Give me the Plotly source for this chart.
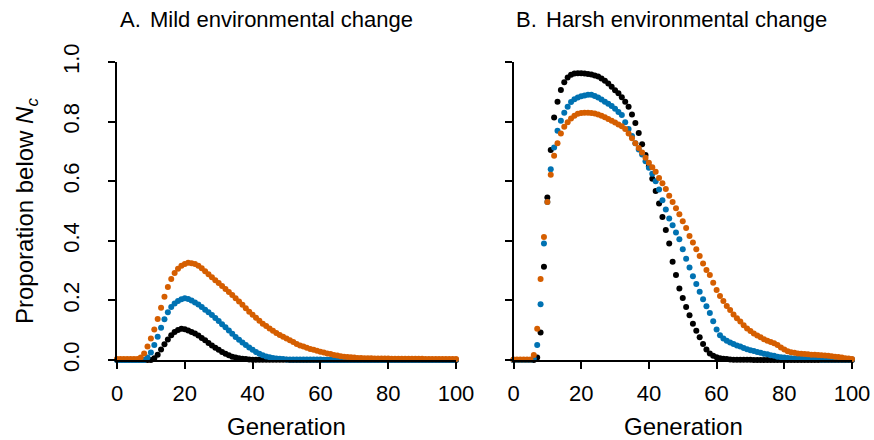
import plotly.graph_objects as go

generation = list(range(101))

# Panel A: Mild environmental change
mild_orange = [0.003]*7 + [
    0.008, 0.022, 0.045, 0.072, 0.102, 0.138, 0.175, 0.212, 0.245, 0.272,
    0.292, 0.306, 0.316, 0.322, 0.326, 0.325, 0.322, 0.316, 0.308, 0.298,
    0.288, 0.278, 0.268, 0.258, 0.248, 0.238, 0.228, 0.218, 0.207, 0.196,
    0.185, 0.174, 0.162, 0.152, 0.142, 0.132, 0.122, 0.114, 0.106, 0.098,
    0.091, 0.084, 0.078, 0.072, 0.066, 0.060, 0.054, 0.049, 0.045, 0.041,
    0.037, 0.034, 0.031, 0.028, 0.025, 0.022, 0.020, 0.017, 0.015, 0.013,
    0.011, 0.010, 0.009, 0.008, 0.007, 0.007, 0.006, 0.006, 0.006, 0.005,
    0.005, 0.005, 0.005, 0.005, 0.004, 0.004, 0.004, 0.004, 0.004, 0.004,
    0.004, 0.004, 0.004, 0.004, 0.003, 0.003, 0.003, 0.003, 0.003, 0.003,
    0.003, 0.003, 0.003, 0.003]
mild_blue = [0.0]*9 + [
    0.008, 0.025, 0.050, 0.078, 0.108, 0.137, 0.160, 0.178, 0.190, 0.198,
    0.204, 0.207, 0.205, 0.200, 0.193, 0.186, 0.178, 0.169, 0.160, 0.151,
    0.141, 0.131, 0.120, 0.110, 0.099, 0.088, 0.077, 0.068, 0.059, 0.050,
    0.042, 0.034, 0.027, 0.021, 0.016, 0.012, 0.009, 0.007, 0.005, 0.004,
    0.003, 0.002, 0.002, 0.002, 0.002, 0.002, 0.002, 0.002, 0.002, 0.002,
    0.002, 0.002] + [0.001]*40
mild_black = [0.0]*11 + [
    0.006, 0.018, 0.035, 0.053, 0.069, 0.083, 0.094, 0.101, 0.105, 0.103,
    0.099, 0.094, 0.089, 0.082, 0.074, 0.066, 0.057, 0.049, 0.041, 0.034,
    0.027, 0.021, 0.016, 0.011, 0.008, 0.006, 0.004, 0.003, 0.002] + [0.001]*11 + [0.0]*50

# Panel B: Harsh environmental change
harsh_black = [0.0]*7 + [
    0.008, 0.092, 0.313, 0.545, 0.705, 0.814, 0.867, 0.906, 0.932, 0.948,
    0.957, 0.961, 0.962, 0.962, 0.961, 0.960, 0.958, 0.955, 0.951, 0.945,
    0.937, 0.928, 0.917, 0.905, 0.895, 0.882, 0.867, 0.850, 0.824, 0.795,
    0.762, 0.724, 0.688, 0.650, 0.608, 0.567, 0.525, 0.480, 0.436, 0.391,
    0.330, 0.285, 0.240, 0.208, 0.178, 0.150, 0.122, 0.098, 0.076, 0.054,
    0.035, 0.022, 0.014, 0.009, 0.006, 0.004, 0.003, 0.002] + [0.001]*6 + [0.0]*30
harsh_blue = [0.0]*6 + [
    0.004, 0.050, 0.187, 0.391, 0.530, 0.640, 0.713, 0.769, 0.803, 0.830,
    0.850, 0.866, 0.875, 0.881, 0.885, 0.888, 0.890, 0.890, 0.886, 0.881,
    0.874, 0.867, 0.860, 0.852, 0.843, 0.832, 0.822, 0.798, 0.775, 0.752,
    0.727, 0.706, 0.690, 0.667, 0.645, 0.625, 0.600, 0.572, 0.536, 0.505,
    0.475, 0.452, 0.428, 0.405, 0.372, 0.340, 0.310, 0.281, 0.255, 0.229,
    0.204, 0.180, 0.158, 0.130, 0.102, 0.083, 0.072, 0.065, 0.059, 0.054,
    0.049, 0.045, 0.040, 0.036, 0.033, 0.030, 0.027, 0.024, 0.021, 0.019,
    0.016, 0.014, 0.011, 0.009, 0.008, 0.007, 0.006, 0.005, 0.005, 0.004,
    0.003, 0.003, 0.003, 0.003, 0.003] + [0.002]*10
harsh_orange = [0.002]*6 + [
    0.017, 0.105, 0.272, 0.413, 0.530, 0.622, 0.685, 0.727, 0.760, 0.783,
    0.798, 0.810, 0.820, 0.826, 0.829, 0.830, 0.830, 0.829, 0.827, 0.824,
    0.820, 0.815, 0.809, 0.803, 0.797, 0.790, 0.784, 0.775, 0.760, 0.744,
    0.727, 0.711, 0.696, 0.679, 0.662, 0.647, 0.632, 0.611, 0.593, 0.574,
    0.551, 0.530, 0.509, 0.489, 0.466, 0.443, 0.416, 0.394, 0.372, 0.349,
    0.324, 0.302, 0.285, 0.259, 0.235, 0.215, 0.198, 0.181, 0.168, 0.153,
    0.140, 0.129, 0.117, 0.106, 0.097, 0.089, 0.082, 0.076, 0.070, 0.065,
    0.060, 0.056, 0.050, 0.042, 0.035, 0.029, 0.026, 0.024, 0.022, 0.021,
    0.020, 0.019, 0.018, 0.018, 0.017, 0.016, 0.015, 0.014, 0.013, 0.011,
    0.010, 0.008, 0.006, 0.005, 0.003]

x_ticks = [0, 20, 40, 60, 80, 100]
y_ticks = [0.0, 0.2, 0.4, 0.6, 0.8, 1.0]
y_ticklabels = ["0.0", "0.2", "0.4", "0.6", "0.8", "1.0"]

BLACK = "#000000"
BLUE = "#0072B2"
ORANGE = "#D55E00"
FONT = "Liberation Sans, Arial, Helvetica, sans-serif"

fig = go.Figure()
for xa, ya, series in [
    ("x", "y", [mild_black, mild_blue, mild_orange]),
    ("x2", "y2", [harsh_black, harsh_blue, harsh_orange]),
]:
    for vals, col in zip(series, [BLACK, BLUE, ORANGE]):
        fig.add_trace(go.Scatter(
            x=generation, y=vals, mode="markers", xaxis=xa, yaxis=ya,
            marker=dict(color=col, size=6, line=dict(width=0)),
            cliponaxis=False, showlegend=False, hoverinfo="skip"))

axis_common = dict(
    showgrid=False, zeroline=False, showline=True, linecolor="black",
    linewidth=1.5, ticks="outside", ticklen=7, tickwidth=1.5, automargin=False,
    tickcolor="black", tickfont=dict(family=FONT, size=22, color="black"),
)
fig.update_layout(
    template="none",
    width=874, height=440,
    margin=dict(l=0, r=0, t=0, b=0, autoexpand=False),
    paper_bgcolor="white", plot_bgcolor="white",
    font=dict(family=FONT, color="black"),
    xaxis=dict(domain=[117/874, 456/874], range=[0, 100], tickvals=x_ticks,
               anchor="y", ticklabelstandoff=6, **axis_common),
    yaxis=dict(domain=[80/440, 378/440], range=[0, 1], tickvals=y_ticks,
               ticktext=y_ticklabels, tickangle=-90, anchor="x",
               ticklabelstandoff=20, **axis_common),
    xaxis2=dict(domain=[513.5/874, 852/874], range=[0, 100], tickvals=x_ticks,
                anchor="y2", ticklabelstandoff=6, **axis_common),
    yaxis2=dict(domain=[80/440, 378/440], range=[0, 1], tickvals=y_ticks,
                showticklabels=False, anchor="x2", **axis_common),
)

title_font = dict(family=FONT, size=22, color="black")
label_font = dict(family=FONT, size=24, color="black")
annotations = [
    dict(text="A.", x=118/874, y=1-20/440, xanchor="left", yanchor="middle", font=title_font),
    dict(text="Mild environmental change", x=148/874, y=1-20/440, xanchor="left", yanchor="middle", font=title_font),
    dict(text="B.", x=514/874, y=1-20/440, xanchor="left", yanchor="middle", font=title_font),
    dict(text="Harsh environmental change", x=544/874, y=1-20/440, xanchor="left", yanchor="middle", font=title_font),
    dict(text="Generation", x=286/874, y=1-426/440, xanchor="center", yanchor="middle", font=label_font),
    dict(text="Generation", x=683/874, y=1-426/440, xanchor="center", yanchor="middle", font=label_font),
    dict(text="Proporation below <i>N<sub>c</sub></i>", x=27/874, y=1-211/440,
         xanchor="center", yanchor="middle", textangle=-90, font=label_font),
]
for a in annotations:
    a.update(xref="paper", yref="paper", showarrow=False)
fig.update_layout(annotations=annotations)

fig.write_html("out.html")
